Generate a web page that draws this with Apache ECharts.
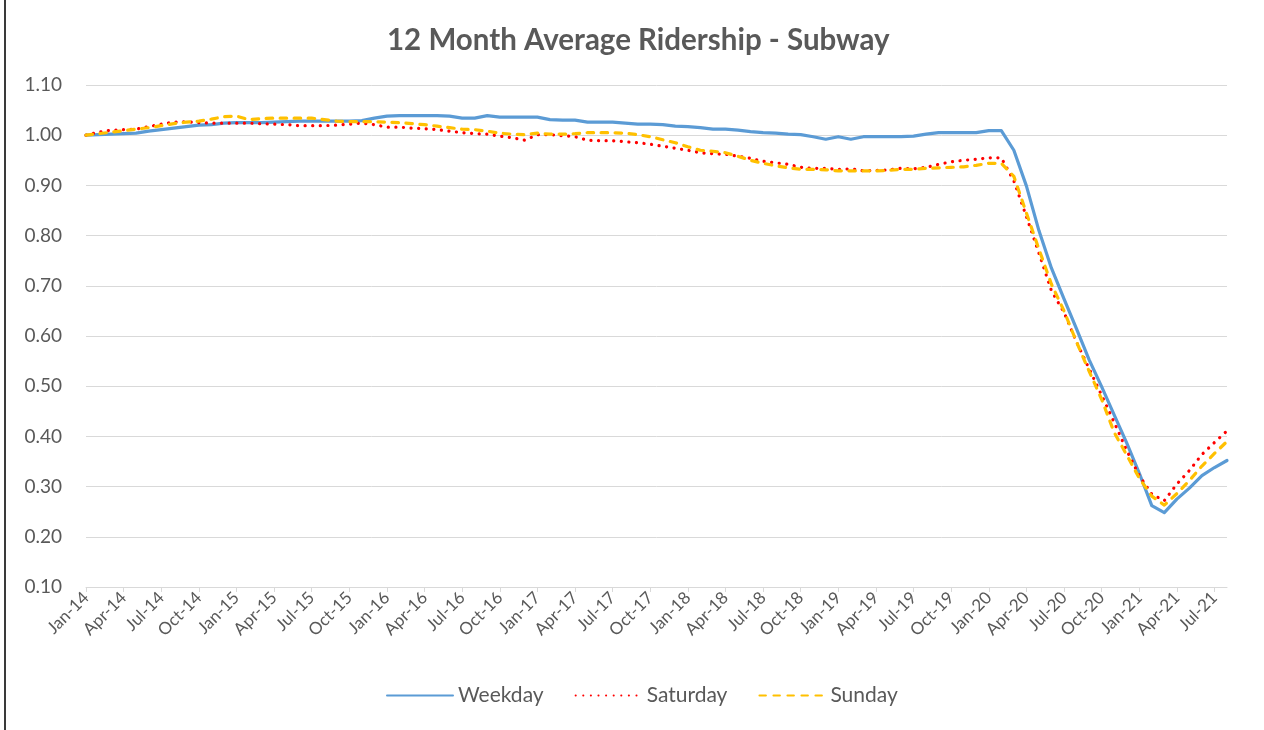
<!DOCTYPE html>
<html>
<head>
<meta charset="utf-8">
<title>12 Month Average Ridership - Subway</title>
<script src="https://cdn.jsdelivr.net/npm/echarts@6/dist/echarts.min.js"></script>
<style>
  html, body { margin: 0; padding: 0; background: #fff; }
  #chart { position: absolute; left: 0; top: 0; width: 1264px; height: 730px; }
  #frame { position: absolute; left: 4px; top: 0; width: 1260px; height: 730px;
           border-left: 2px solid #3a3a3a; box-sizing: border-box; pointer-events: none; }
</style>
</head>
<body>
<div id="chart"></div>
<div id="frame"></div>
<script>
// month labels Jan-14 .. Aug-21
const monthNames = ['Jan', 'Feb', 'Mar', 'Apr', 'May', 'Jun', 'Jul', 'Aug', 'Sep', 'Oct', 'Nov', 'Dec']
const categories = []
for (let y = 14; y <= 21; y++) {
  for (let m = 0; m < 12; m++) {
    if (y === 21 && m > 7) break
    categories.push(monthNames[m] + '-' + y)
  }
}

// 12 month rolling average, indexed to Jan-14 = 1.00
const weekday = [
  1.000, 1.001, 1.002, 1.003, 1.004, 1.008, 1.011, 1.014, 1.017, 1.020, 1.021, 1.024,
  1.025, 1.025, 1.025, 1.026, 1.027, 1.028, 1.028, 1.028, 1.028, 1.028, 1.029, 1.034,
  1.038, 1.039, 1.039, 1.039, 1.039, 1.038, 1.034, 1.034, 1.039, 1.036, 1.036, 1.036,
  1.036, 1.031, 1.030, 1.030, 1.026, 1.026, 1.026, 1.024, 1.022, 1.022, 1.021, 1.018,
  1.017, 1.015, 1.012, 1.012, 1.010, 1.007, 1.005, 1.004, 1.002, 1.001, 0.997, 0.992,
  0.997, 0.992, 0.997, 0.997, 0.997, 0.997, 0.998, 1.002, 1.005, 1.005, 1.005, 1.005,
  1.009, 1.009, 0.970, 0.899, 0.810, 0.735, 0.674, 0.614, 0.553, 0.499, 0.443, 0.387,
  0.327, 0.262, 0.248, 0.275, 0.297, 0.322, 0.338, 0.352
]
const saturday = [
  1.000, 1.006, 1.010, 1.011, 1.012, 1.017, 1.022, 1.026, 1.027, 1.025, 1.024, 1.024,
  1.024, 1.024, 1.023, 1.022, 1.021, 1.019, 1.019, 1.019, 1.020, 1.022, 1.024, 1.021,
  1.016, 1.016, 1.014, 1.013, 1.011, 1.008, 1.005, 1.003, 1.002, 0.998, 0.995, 0.990,
  1.001, 1.001, 0.999, 0.997, 0.990, 0.989, 0.989, 0.987, 0.985, 0.982, 0.978, 0.974,
  0.970, 0.965, 0.963, 0.962, 0.958, 0.954, 0.948, 0.945, 0.942, 0.936, 0.934, 0.934,
  0.932, 0.933, 0.929, 0.930, 0.931, 0.934, 0.933, 0.936, 0.942, 0.947, 0.950, 0.952,
  0.955, 0.955, 0.909, 0.838, 0.765, 0.690, 0.647, 0.588, 0.535, 0.482, 0.428, 0.372,
  0.322, 0.285, 0.272, 0.305, 0.332, 0.364, 0.388, 0.411
]
const sunday = [
  1.000, 1.003, 1.006, 1.009, 1.012, 1.015, 1.019, 1.023, 1.026, 1.028, 1.032, 1.037,
  1.038, 1.031, 1.033, 1.034, 1.034, 1.034, 1.034, 1.031, 1.028, 1.027, 1.027, 1.027,
  1.026, 1.025, 1.023, 1.021, 1.018, 1.015, 1.012, 1.011, 1.008, 1.004, 1.002, 1.001,
  1.004, 1.002, 1.002, 1.003, 1.005, 1.005, 1.005, 1.004, 1.001, 0.997, 0.991, 0.985,
  0.977, 0.970, 0.968, 0.965, 0.958, 0.950, 0.944, 0.939, 0.935, 0.932, 0.932, 0.931,
  0.929, 0.929, 0.929, 0.929, 0.930, 0.932, 0.932, 0.934, 0.935, 0.936, 0.937, 0.940,
  0.944, 0.944, 0.918, 0.845, 0.773, 0.703, 0.650, 0.588, 0.530, 0.474, 0.408, 0.363,
  0.317, 0.281, 0.263, 0.286, 0.312, 0.341, 0.366, 0.390
]

const FONT = 'Lato, "Open Sans", sans-serif'
const TEXT = '#595959'
const GRID = '#d9d9d9'

const chart = echarts.init(document.getElementById('chart'))

chart.setOption({
  animation: false,
  backgroundColor: '#fff',
  title: {
    text: '12 Month Average Ridership - Subway',
    left: 387,
    top: 25,
    padding: 0,
    textStyle: { fontFamily: FONT, fontSize: 29.5, fontWeight: 'bold', color: TEXT }
  },
  legend: {
    left: 386,
    top: 685,
    padding: 0,
    itemWidth: 66,
    itemHeight: 14,
    itemGap: 31,
    itemStyle: { opacity: 0 },
    textStyle: { fontFamily: FONT, fontSize: 21, color: TEXT },
    data: ['Weekday', 'Saturday', 'Sunday']
  },
  grid: { left: 86, right: 37, top: 85, bottom: 143 },
  xAxis: {
    type: 'category',
    boundaryGap: false,
    data: categories,
    axisLine: { lineStyle: { color: GRID, width: 1 } },
    axisTick: { show: true, interval: 2, length: 5, lineStyle: { color: GRID } },
    axisLabel: { interval: 2, rotate: 45, margin: 8, fontFamily: FONT, fontSize: 17, color: TEXT },
    splitLine: { show: false }
  },
  yAxis: {
    type: 'value',
    min: 0.1,
    max: 1.1,
    interval: 0.1,
    axisLine: { show: false },
    axisTick: { show: false },
    axisLabel: {
      margin: 24,
      fontFamily: FONT,
      fontSize: 19,
      color: TEXT,
      formatter: (v) => v.toFixed(2)
    },
    splitLine: { lineStyle: { color: GRID, width: 1 } }
  },
  series: [
    {
      name: 'Weekday',
      type: 'line',
      data: weekday,
      symbol: 'none',
      itemStyle: { color: '#5B9BD5' },
      lineStyle: { color: '#5B9BD5', width: 3.2, cap: 'round', join: 'round' }
    },
    {
      name: 'Saturday',
      type: 'line',
      data: saturday,
      symbol: 'none',
      itemStyle: { color: '#FF0000' },
      lineStyle: { color: '#FF0000', width: 3.2, type: [0.1, 7.5], cap: 'round', join: 'round' }
    },
    {
      name: 'Sunday',
      type: 'line',
      data: sunday,
      symbol: 'none',
      itemStyle: { color: '#FFC000' },
      lineStyle: { color: '#FFC000', width: 3.2, type: [6.5, 7.5], cap: 'round', join: 'round' }
    }
  ]
})
</script>
</body>
</html>
